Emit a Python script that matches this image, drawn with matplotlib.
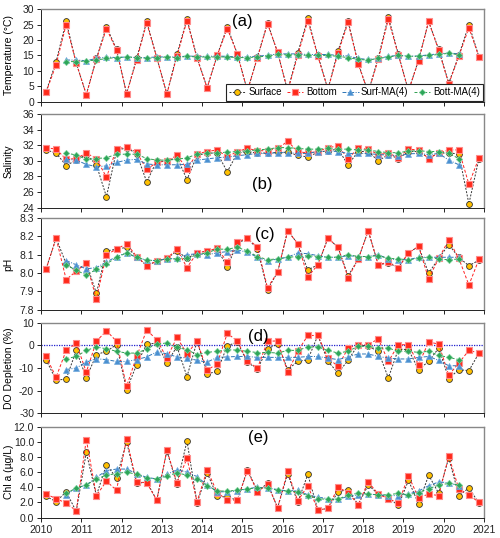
import matplotlib
matplotlib.use('Agg')
import matplotlib.pyplot as plt
import matplotlib.ticker as mticker

plt.rcParams['font.family'] = ['Liberation Sans', 'DejaVu Sans']

# quarterly sampling (Feb, May, Aug, Nov), 2010-2020
years = [y + (m - 0.5) / 12 for y in range(2010, 2021) for m in (2, 5, 8, 11)]
ma_years = years[2:42]

temp_surf = [3.2, 13.0, 26.0, 12.5, 2.3, 14.0, 24.3, 17.0, 2.6, 14.0, 26.0, 14.3,
             2.5, 15.3, 26.8, 14.3, 4.5, 15.0, 24.3, 15.5, 3.5, 14.5, 25.5, 16.0,
             3.5, 15.8, 27.0, 15.0, 4.0, 16.5, 26.2, 12.5, 3.0, 14.3, 27.5, 15.3,
             3.5, 13.5, 26.0, 17.0, 6.0, 15.0, 25.0, 14.5]
temp_bott = [3.0, 12.0, 25.0, 12.5, 2.3, 13.7, 23.7, 16.8, 2.6, 13.5, 25.5, 14.3,
             2.5, 14.7, 26.3, 14.0, 4.5, 15.0, 23.7, 15.5, 3.5, 14.3, 25.3, 16.0,
             3.5, 15.0, 26.3, 14.7, 4.0, 15.7, 25.7, 12.2, 3.0, 13.7, 26.7, 15.0,
             3.5, 13.3, 26.0, 16.7, 5.8, 14.7, 24.0, 14.5]
temp_surf_ma = [13.5, 13.5, 13.3, 14.0, 14.5, 14.3, 14.5, 14.3, 14.3, 14.5, 14.5, 14.5,
                14.8, 14.7, 14.7, 14.8, 14.7, 14.5, 14.5, 14.8, 15.0, 15.5, 15.5, 15.5,
                15.3, 15.3, 15.3, 15.0, 14.8, 14.0, 13.7, 14.0, 14.7, 15.0, 14.8, 14.8,
                15.2, 15.5, 15.8, 15.5]
temp_bott_ma = [13.0, 13.0, 13.2, 13.5, 14.0, 14.3, 14.5, 14.3, 14.0, 14.3, 14.5, 14.3,
                14.7, 14.5, 14.5, 14.5, 14.5, 14.3, 14.3, 14.5, 14.8, 15.3, 15.2, 15.2,
                15.0, 15.0, 15.0, 14.7, 14.3, 13.7, 13.5, 14.0, 14.5, 15.0, 14.7, 14.7,
                15.0, 15.3, 15.7, 15.2]

sal_surf = [31.4, 31.0, 29.4, 30.1, 30.8, 29.5, 25.4, 31.3, 31.7, 30.9, 27.3, 30.0,
            29.9, 30.5, 27.6, 30.7, 31.0, 31.0, 28.6, 31.0, 31.2, 31.0, 31.0, 31.1,
            31.1, 30.7, 30.5, 31.1, 31.3, 31.5, 29.5, 31.2, 31.2, 30.0, 30.8, 30.3,
            31.2, 31.2, 30.4, 31.0, 31.0, 30.9, 24.5, 30.3]
sal_bott = [31.7, 31.5, 30.2, 30.3, 31.0, 30.3, 27.9, 31.5, 31.8, 31.1, 28.9, 29.8,
            30.0, 30.7, 29.0, 30.9, 31.2, 31.4, 30.5, 31.2, 31.6, 31.3, 31.3, 31.6,
            32.5, 31.2, 31.0, 31.2, 31.7, 31.9, 30.3, 31.6, 31.5, 30.8, 31.0, 30.4,
            31.5, 31.4, 30.3, 31.0, 31.4, 31.4, 27.0, 30.4]
sal_surf_ma = [30.2, 30.1, 29.55, 29.25, 29.35, 29.8, 30.1, 30.2, 29.6, 29.5, 29.5, 29.5,
               29.55, 30.1, 30.25, 30.4, 30.5, 30.65, 30.8, 30.95, 30.95, 31.05, 31.05, 30.95,
               30.95, 31.2, 31.25, 31.2, 30.95, 30.95, 30.95, 30.8, 30.75, 30.65, 30.9, 30.95,
               30.8, 30.95, 30.1, 29.5]
sal_bott_ma = [31.0, 30.75, 30.2, 30.3, 30.4, 30.85, 30.85, 30.85, 30.3, 30.1, 30.1, 30.2,
               30.4, 30.85, 30.95, 31.05, 31.1, 31.2, 31.3, 31.4, 31.5, 31.7, 31.7, 31.6,
               31.5, 31.5, 31.6, 31.5, 31.5, 31.4, 31.4, 31.2, 31.05, 31.05, 31.25, 31.3,
               31.2, 31.2, 30.95, 30.3]

ph_surf = [8.023, 8.19, 8.05, 8.01, 8.055, 7.89, 8.12, 8.13, 8.14, 8.09, 8.04, 8.065,
           8.08, 8.12, 8.08, 8.11, 8.12, 8.13, 8.035, 8.16, 8.19, 8.13, 7.91, 8.005,
           8.23, 8.16, 8.017, 8.045, 8.19, 8.14, 7.985, 8.075, 8.23, 8.045, 8.055, 8.03,
           8.11, 8.145, 8.0, 8.08, 8.155, 8.085, 8.04, 8.07]
ph_bott = [8.02, 8.19, 7.965, 8.01, 8.055, 7.86, 8.10, 8.13, 8.16, 8.09, 8.04, 8.065,
           8.08, 8.13, 8.03, 8.11, 8.12, 8.135, 8.06, 8.17, 8.19, 8.14, 7.92, 8.005,
           8.23, 8.16, 7.98, 8.045, 8.19, 8.14, 7.975, 8.075, 8.23, 8.045, 8.06, 8.03,
           8.11, 8.145, 7.97, 8.08, 8.18, 8.08, 7.935, 8.075]
ph_surf_ma = [8.068, 8.045, 8.023, 8.03, 8.06, 8.09, 8.11, 8.085, 8.07, 8.068, 8.077, 8.08,
              8.10, 8.105, 8.10, 8.11, 8.117, 8.126, 8.113, 8.086, 8.065, 8.077, 8.086, 8.11,
              8.105, 8.095, 8.086, 8.086, 8.095, 8.09, 8.09, 8.10, 8.077, 8.073, 8.073, 8.086,
              8.086, 8.086, 8.086, 8.086]
ph_bott_ma = [8.045, 8.015, 7.99, 8.02, 8.05, 8.085, 8.11, 8.085, 8.07, 8.068, 8.077, 8.077,
              8.08, 8.10, 8.11, 8.13, 8.13, 8.14, 8.12, 8.09, 8.073, 8.077, 8.086, 8.09,
              8.095, 8.09, 8.086, 8.086, 8.10, 8.09, 8.09, 8.095, 8.08, 8.077, 8.072, 8.08,
              8.086, 8.077, 8.072, 8.077]

do_surf = [-6.3, -15.4, -14.9, -2.2, -14.4, -4.1, -2.6, 0.3, -19.6, -8.5, 0.6, 1.0,
           -7.8, -0.5, -13.8, 1.8, -12.6, -11.5, -0.2, 1.5, -7.5, -10.4, -1.5, 0.6,
           -10.7, -7.1, -6.3, 4.4, -7.1, -12.2, -6.6, 0.3, -0.4, -2.6, -14.4, -1.6,
           -1.9, -10.7, -7.1, -1.2, -14.7, -10.7, -11.2, -3.4]
do_bott = [-4.9, -14.1, -2.2, 0.9, -11.8, 1.8, 6.5, 1.8, -18.1, -4.9, 6.8, 2.5,
           -5.6, 3.5, -3.7, 1.8, -11.0, -8.1, 5.3, 2.0, -7.1, -10.0, 1.8, 2.0,
           -11.8, -2.6, 4.4, 4.4, -5.6, -9.3, -1.2, 0.3, 0.3, 2.9, -7.1, 0.3,
           0.3, -8.5, 1.5, 0.6, -13.2, -7.8, -2.2, -3.4]
do_surf_ma = [-10.7, -10.0, -7.4, -5.9, -6.3, -7.1, -7.1, -6.3, -5.1, -2.9, -3.7, -5.1,
              -5.6, -6.6, -7.4, -5.3, -5.1, -4.9, -4.9, -5.3, -5.3, -5.3, -5.3, -5.3,
              -4.9, -4.9, -5.6, -6.3, -5.1, -3.8, -3.8, -4.9, -5.6, -6.0, -6.0, -5.3,
              -4.9, -6.6, -9.0, -9.0]
do_bott_ma = [-5.9, -4.9, -2.2, -0.7, -1.5, -2.6, -3.4, -3.4, -1.6, 0.7, 1.0, -0.9,
              -1.9, -4.1, -3.1, -2.6, -1.9, -2.1, -2.6, -3.2, -3.1, -3.4, -2.2, -2.2,
              -0.7, -0.7, -2.2, -3.4, -2.6, -0.4, -0.4, -1.2, -1.2, -2.6, -2.6, -3.1,
              -2.6, -4.4, -5.3, -6.3]

chl_surf = [2.8, 2.1, 3.4, 0.8, 8.6, 2.9, 7.0, 5.2, 10.0, 4.5, 4.7, 2.3,
            8.8, 4.4, 10.1, 1.9, 5.9, 2.8, 2.7, 2.3, 6.3, 3.5, 4.5, 1.3,
            5.8, 2.0, 5.7, 1.0, 1.2, 3.4, 3.7, 1.7, 4.3, 3.1, 2.6, 1.6,
            4.9, 1.8, 5.6, 3.2, 7.9, 2.9, 3.9, 1.9]
chl_bott = [3.1, 2.5, 1.9, 0.9, 10.3, 2.9, 4.8, 3.6, 10.4, 4.7, 4.6, 2.3,
            8.9, 4.6, 7.8, 2.1, 6.3, 3.3, 2.3, 2.3, 6.2, 3.4, 4.4, 1.3,
            6.1, 2.2, 4.2, 1.0, 1.2, 4.0, 3.3, 1.7, 4.7, 3.1, 2.5, 1.9,
            5.5, 2.6, 3.1, 2.9, 8.1, 3.8, 3.0, 2.0]
chl_surf_ma = [3.0, 3.9, 4.3, 5.3, 6.2, 6.4, 6.4, 5.8, 5.3, 5.1, 5.7, 6.3,
               6.0, 5.4, 4.3, 3.4, 3.4, 3.5, 3.8, 4.0, 3.9, 3.7, 3.5, 3.6,
               3.0, 2.7, 2.5, 2.4, 2.8, 3.0, 3.1, 3.0, 2.9, 2.9, 3.1, 3.5,
               4.2, 4.7, 4.6, 4.2]
chl_bott_ma = [3.2, 3.9, 4.3, 5.1, 5.6, 5.8, 6.0, 5.7, 5.2, 5.1, 5.5, 5.9,
               5.6, 5.1, 4.2, 3.5, 3.5, 3.6, 3.8, 3.9, 3.9, 3.6, 3.5, 3.4,
               2.9, 2.5, 2.4, 2.4, 3.0, 3.2, 3.1, 3.0, 3.0, 3.2, 3.0, 3.3,
               3.8, 4.3, 4.5, 4.3]

panels = [
    ("Temperature (°C)", "(a)", temp_surf, temp_bott, temp_surf_ma, temp_bott_ma,
     (0, 30), 5, "%d", (2015.0, 26.0)),
    ("Salinity", "(b)", sal_surf, sal_bott, sal_surf_ma, sal_bott_ma,
     (24, 36), 2, "%d", (2015.5, 27.0)),
    ("pH", "(c)", ph_surf, ph_bott, ph_surf_ma, ph_bott_ma,
     (7.8, 8.3), 0.1, "%.1f", (2015.55, 8.21)),
    ("DO Depletion (%)", "(d)", do_surf, do_bott, do_surf_ma, do_bott_ma,
     (-30, 10), 10, "%d", (2015.4, 4.0)),
    ("Chl a (µg/L)", "(e)", chl_surf, chl_bott, chl_surf_ma, chl_bott_ma,
     (0, 12), 2, "%.1f", (2015.4, 10.6)),
]

# axes boxes (left, bottom, width, height) in figure fraction
boxes = [(0.082, 0.811, 0.886, 0.172),
         (0.082, 0.614, 0.886, 0.174),
         (0.082, 0.424, 0.886, 0.171),
         (0.082, 0.232, 0.886, 0.168),
         (0.082, 0.038, 0.886, 0.169)]

fig = plt.figure(figsize=(5.0, 5.38), dpi=100)
fig.patch.set_facecolor("white")

for i, (ylabel, tag, surf, bott, surf_ma, bott_ma, ylim, step, fmt, tagpos) in enumerate(panels):
    ax = fig.add_axes(boxes[i])
    ax.plot(years, surf, linestyle=(0, (2, 1.5)), color="#333333", linewidth=0.7,
            marker="o", markersize=4.2, markerfacecolor="#FFC000",
            markeredgecolor="#333333", markeredgewidth=0.6, label="Surface", zorder=3)
    ax.plot(years, bott, linestyle=(0, (3, 2)), color="#FF2020", linewidth=0.7,
            marker="s", markersize=3.8, markerfacecolor="#FF2A1A",
            markeredgecolor="#FF8C8C", markeredgewidth=0.8, label="Bottom", zorder=4)
    ax.plot(ma_years, surf_ma, linestyle=(0, (4, 1.5, 1, 1.5)), color="#2E75B6", linewidth=0.7,
            marker="^", markersize=4.2, markerfacecolor="#4A90D0",
            markeredgecolor="#6FA8DC", markeredgewidth=0.5, label="Surf-MA(4)", zorder=5)
    ax.plot(ma_years, bott_ma, linestyle=(0, (3, 2)), color="#2E9E4F", linewidth=0.7,
            marker="D", markersize=3.2, markerfacecolor="#2EA55A",
            markeredgecolor="#7FD39A", markeredgewidth=0.5, label="Bott-MA(4)", zorder=6)

    if tag == "(d)":
        ax.axhline(0, color="#1F1FCC", linestyle=(0, (1, 1)), linewidth=0.9, zorder=2)

    ax.set_xlim(2010, 2021)
    ax.set_ylim(*ylim)
    ax.xaxis.set_major_locator(mticker.MultipleLocator(1))
    ax.yaxis.set_major_locator(mticker.MultipleLocator(step))
    ax.yaxis.set_major_formatter(mticker.FormatStrFormatter(fmt))
    ax.tick_params(direction="out", length=3, width=0.7, labelsize=7.5, pad=2, colors="#222222")
    if i < len(panels) - 1:
        ax.tick_params(axis="x", labelbottom=False)
    ax.set_ylabel(ylabel, fontsize=7.5)
    ax.yaxis.set_label_coords(-0.062, 0.5)
    for side in ("top", "right"):
        ax.spines[side].set_color("#888888")
        ax.spines[side].set_linewidth(1.0)
    for side in ("left", "bottom"):
        ax.spines[side].set_color("#222222")
        ax.spines[side].set_linewidth(0.7)
    ax.text(tagpos[0], tagpos[1], tag, fontsize=12, ha="center", va="center", zorder=7)

    if i == 0:
        leg = ax.legend(loc="lower right", ncol=4, fontsize=7, frameon=True, fancybox=False,
                        handlelength=1.7, handletextpad=0.25, columnspacing=0.55,
                        borderpad=0.35, borderaxespad=0.1, framealpha=1)
        leg.get_frame().set_edgecolor("#222222")
        leg.get_frame().set_linewidth(0.8)
        leg.set_zorder(10)

fig.savefig("out.png", dpi=100, facecolor="white")
